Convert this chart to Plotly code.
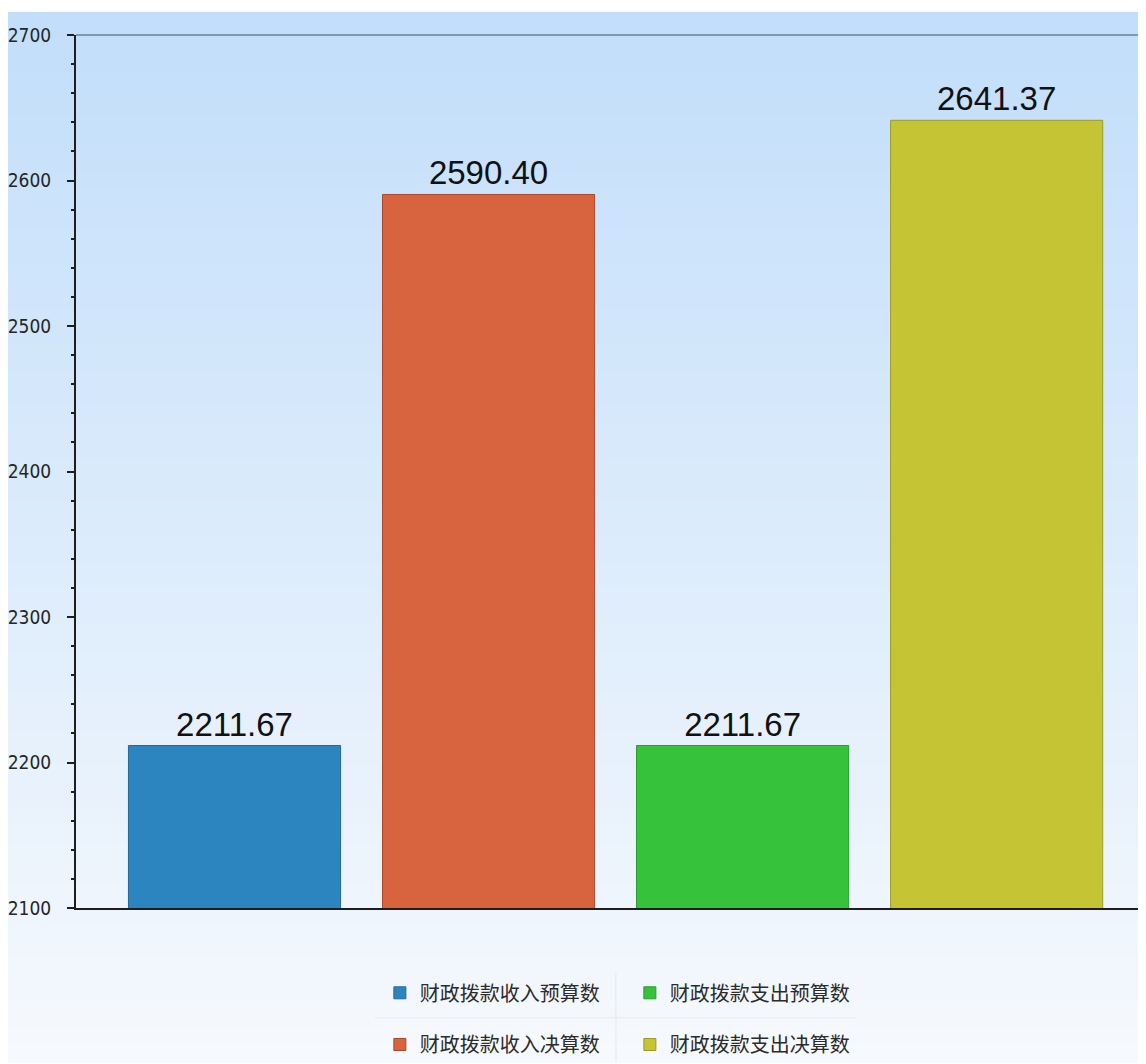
import plotly.graph_objects as go

categories = ["财政拨款收入预算数", "财政拨款收入决算数", "财政拨款支出预算数", "财政拨款支出决算数"]
values = [2211.67, 2590.40, 2211.67, 2641.37]
colors = ["#2d85c0", "#d7633f", "#37c23c", "#c5c434"]
edge_colors = ["#23689a", "#a8482a", "#2a9a30", "#9c9a28"]

OFF = 8  # page body margin
W, H = 1146 - OFF, 1064 - OFF
L, T, B = 72 - OFF, 35 - OFF, 1064 - 910
plot_h = H - T - B
plot_w = W - L

def py(p):
    return (H + OFF - B - p) / plot_h

def px(p):
    return (p - OFF - L) / plot_w

fig = go.Figure()
order = [0, 2, 1, 3]  # legend reading order (row by row)
for i in order:
    fig.add_trace(go.Bar(
        x=[categories[i]], y=[values[i]], name=categories[i],
        marker=dict(color=colors[i], line=dict(color=edge_colors[i], width=1)),
        width=0.835,
        texttemplate="%{y:.2f}", textposition="outside",
        textfont=dict(family="Liberation Sans, Arial", size=33, color="#111111"),
        cliponaxis=False,
        legend="legend" if i in (0, 2) else "legend2",
    ))

# background gradient bands
shapes = []
n = 120
top_c = (194, 222, 250)
bot_c = (246, 249, 253)
y_top, y_bot = 12, 1064
for k in range(n):
    t = k / (n - 1)
    c = tuple(round(top_c[j] + (bot_c[j] - top_c[j]) * t) for j in range(3))
    p0 = y_top + (y_bot - y_top) * k / n
    p1 = y_top + (y_bot - y_top) * (k + 1) / n + 1
    shapes.append(dict(type="rect", xref="paper", yref="paper", layer="below",
                       x0=px(0), x1=1.0, y0=py(p1), y1=py(p0),
                       fillcolor="rgb(%d,%d,%d)" % c, line=dict(width=0)))
# top frame line
shapes.append(dict(type="line", xref="paper", yref="paper", layer="above",
                   x0=0, x1=1, y0=1, y1=1, line=dict(color="#8099b0", width=2)))
# faint legend separators
for (xa, xb, ya, yb) in [(372, 855, 1020, 1020), (614, 614, 975, 1064)]:
    shapes.append(dict(type="line", xref="paper", yref="paper", layer="below",
                       x0=px(xa), x1=px(xb), y0=py(ya), y1=py(yb),
                       line=dict(color="#e4e9ef", width=1)))

legend_font = dict(family="Noto Sans CJK SC", size=20, color="#2b2b2b")
fig.update_layout(
    width=W, height=H,
    margin=dict(l=L, r=0, t=T, b=B, pad=0),
    paper_bgcolor="white",
    plot_bgcolor="rgba(0,0,0,0)",
    barmode="overlay",
    shapes=shapes,
    showlegend=True,
    xaxis=dict(
        range=[-0.624, 3.588], showticklabels=False, ticks="",
        categoryorder="array", categoryarray=categories,
        showgrid=False, zeroline=False,
        showline=True, linecolor="#1e1e1e", linewidth=2,
    ),
    yaxis=dict(
        range=[2100, 2700], dtick=100, tick0=2100,
        showgrid=False, zeroline=False,
        showline=True, linecolor="#1e1e1e", linewidth=2,
        ticks="outside", ticklen=7, tickwidth=2, tickcolor="#1e1e1e",
        tickfont=dict(family="DejaVu Sans Condensed, Liberation Sans", size=19, color="#262626"),
        ticklabelstandoff=12,
        minor=dict(dtick=20, ticks="outside", ticklen=3, tickwidth=2, tickcolor="#1e1e1e"),
    ),
    legend=dict(
        orientation="h", x=px(377), y=py(995), xanchor="left", yanchor="middle",
        entrywidth=205, entrywidthmode="pixels",
        font=legend_font, bgcolor="rgba(0,0,0,0)", traceorder="normal",
    ),
    legend2=dict(
        orientation="h", x=px(377), y=py(1047), xanchor="left", yanchor="middle",
        entrywidth=205, entrywidthmode="pixels",
        font=legend_font, bgcolor="rgba(0,0,0,0)", traceorder="normal",
    ),
)

fig.write_html("out.html")
